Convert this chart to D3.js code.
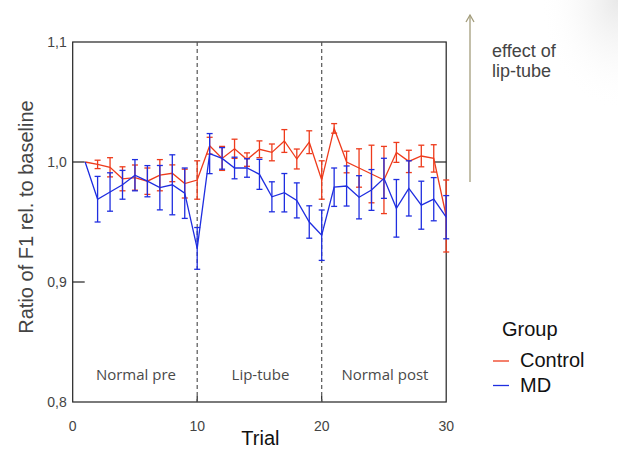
<!DOCTYPE html>
<html>
  <head>
    <title></title>
    <style>
      body, html{
        margin: 0;
        width: 100%;
        height: 100%;
        background: #fff;
      }
      text{
        font-family: "Liberation Sans", Arial, sans-serif;
      }
      .phase{
        font-family: "Open Sans", sans-serif;
        font-size: 15px;
        fill: #4a4a4a;
      }
    </style>
  </head>
  <body>
    <div id="chart"></div>
    <script src="https://cdn.jsdelivr.net/npm/d3@7/dist/d3.min.js" charset="utf-8"></script>
    <script>

// trials 1..30
var trials = d3.range(1, 31)

var controlMean = [1.000, 0.998, 0.9956, 0.986, 0.987, 0.984, 0.989, 0.9906, 0.982, 0.985,
  1.0136, 1.003, 1.011, 1.002, 1.0106, 1.008, 1.0175, 1.0025, 1.0165, 0.985,
  1.028, 1.000, 0.995, 0.990, 0.985, 1.008, 1.0005, 1.005, 1.003, 0.955]
var controlErr = [0, 0.0035, 0.008, 0.010, 0.0105, 0.011, 0.013, 0.007, 0.012, 0.016,
  0.007, 0.010, 0.008, 0.0056, 0.007, 0.007, 0.0095, 0.0083, 0.0095, 0.016,
  0.004, 0.009, 0.016, 0.024, 0.028, 0.0083, 0.0093, 0.009, 0.0114, 0.03]

var mdMean = [1.000, 0.969, 0.975, 0.981, 0.989, 0.984, 0.9786, 0.981, 0.974, 0.928,
  1.007, 1.003, 0.995, 0.995, 0.9897, 0.971, 0.9744, 0.968, 0.950, 0.939,
  0.979, 0.980, 0.9706, 0.9767, 0.9864, 0.9614, 0.978, 0.964, 0.969, 0.954]
var mdErr = [0, 0.019, 0.016, 0.012, 0.013, 0.013, 0.0185, 0.025, 0.021, 0.0174,
  0.0167, 0.009, 0.009, 0.0077, 0.0125, 0.0125, 0.016, 0.0146, 0.0135, 0.021,
  0.016, 0.0167, 0.018, 0.017, 0.0167, 0.024, 0.023, 0.02, 0.018, 0.018]

var yTicks = [0.8, 0.9, 1.0, 1.1]
var xTicks = [0, 10, 20, 30]
var phaseBounds = [10, 20]
var phases = [{label: 'Normal pre', from: 0, to: 10},
  {label: 'Lip-tube', from: 10, to: 20},
  {label: 'Normal post', from: 20, to: 30}]
var groups = [{name: 'Control', color: '#ee3b1c', mean: controlMean, err: controlErr},
  {name: 'MD', color: '#1f2ee0', mean: mdMean, err: mdErr}]

var width = 618, height = 450
var svg = d3.select('#chart').append('svg')
  .attr('width', width).attr('height', height)

// faint shading top right like the slide background
var defs = svg.append('defs')
var rg = defs.append('radialGradient').attr('id', 'shade')
  .attr('cx', '100%').attr('cy', '0%').attr('r', '100%')
rg.append('stop').attr('offset', '0%').attr('stop-color', '#e8e8e8')
rg.append('stop').attr('offset', '100%').attr('stop-color', '#fff').attr('stop-opacity', 0)
svg.append('rect').attr('x', 540).attr('y', 0).attr('width', 78).attr('height', 110)
  .attr('fill', 'url(#shade)')

var x = d3.scaleLinear().domain([0, 30]).range([72.7, 446.2])
var y = d3.scaleLinear().domain([0.8, 1.1]).range([402, 42])

var plot = svg.append('g')

// frame
plot.append('rect')
  .attr('x', x(0)).attr('y', y(1.1))
  .attr('width', x(30) - x(0)).attr('height', y(0.8) - y(1.1))
  .attr('fill', 'none').attr('stroke', '#222').attr('stroke-width', 1.2)

// inward ticks
plot.selectAll('.ytick').data(yTicks.filter(function(d){ return d > 0.8 && d < 1.1 }))
  .enter().append('line')
  .attr('x1', x(0)).attr('x2', x(0) + 12)
  .attr('y1', function(d){ return y(d) }).attr('y2', function(d){ return y(d) })
  .attr('stroke', '#222').attr('stroke-width', 1.2)
plot.append('line')
  .attr('x1', x(30) - 12).attr('x2', x(30))
  .attr('y1', y(1.0)).attr('y2', y(1.0))
  .attr('stroke', '#222').attr('stroke-width', 1.2)
plot.selectAll('.xtick').data(phaseBounds)
  .enter().append('line')
  .attr('x1', function(d){ return x(d) }).attr('x2', function(d){ return x(d) })
  .attr('y1', y(0.8)).attr('y2', y(0.8) - 6)
  .attr('stroke', '#222').attr('stroke-width', 1.2)

// phase boundaries
plot.selectAll('.bound').data(phaseBounds)
  .enter().append('line')
  .attr('x1', function(d){ return x(d) }).attr('x2', function(d){ return x(d) })
  .attr('y1', y(1.1)).attr('y2', y(0.8))
  .attr('stroke', '#555').attr('stroke-width', 1.2)
  .attr('stroke-dasharray', '4,3')

plot.selectAll('.phase').data(phases)
  .enter().append('text').attr('class', 'phase')
  .attr('x', function(d){ return x((d.from + d.to) / 2) + 1 })
  .attr('y', 380)
  .attr('text-anchor', 'middle')
  .text(function(d){ return d.label })

// tick labels
svg.selectAll('.ylab').data(yTicks)
  .enter().append('text')
  .attr('x', x(0) - 6)
  .attr('y', function(d){ return y(d) + 5 })
  .attr('text-anchor', 'end')
  .style('font-size', '14px').style('fill', '#444')
  .text(function(d){ return d3.format('.1f')(d).replace('.', ',') })
svg.selectAll('.xlab').data(xTicks)
  .enter().append('text')
  .attr('x', function(d){ return x(d) })
  .attr('y', 431)
  .attr('text-anchor', 'middle')
  .style('font-size', '14px').style('fill', '#444')
  .text(function(d){ return d })

svg.append('text')
  .attr('x', (x(0) + x(30)) / 2 + 1).attr('y', 445)
  .attr('text-anchor', 'middle')
  .style('font-size', '20px').style('fill', '#111')
  .text('Trial')
svg.append('text')
  .attr('transform', 'translate(33,' + 217 + ') rotate(-90)')
  .attr('text-anchor', 'middle')
  .style('font-size', '20px').style('fill', '#444')
  .text('Ratio of F1 rel. to baseline')

// series
var line = d3.line()
  .x(function(d){ return x(d.t) })
  .y(function(d){ return y(d.m) })

groups.forEach(function(g){
  var pts = trials.map(function(t, i){ return {t: t, m: g.mean[i], e: g.err[i]} })
  var s = plot.append('g').attr('stroke', g.color).attr('fill', 'none').attr('stroke-width', 1.3)
  s.append('path').attr('d', line(pts))
  var bars = s.selectAll('.bar').data(pts.filter(function(d){ return d.e > 0 }))
    .enter().append('g')
  bars.append('line')
    .attr('x1', function(d){ return x(d.t) }).attr('x2', function(d){ return x(d.t) })
    .attr('y1', function(d){ return y(d.m - d.e) }).attr('y2', function(d){ return y(d.m + d.e) })
  bars.append('line')
    .attr('x1', function(d){ return x(d.t) - 3 }).attr('x2', function(d){ return x(d.t) + 3 })
    .attr('y1', function(d){ return y(d.m + d.e) }).attr('y2', function(d){ return y(d.m + d.e) })
  bars.append('line')
    .attr('x1', function(d){ return x(d.t) - 3 }).attr('x2', function(d){ return x(d.t) + 3 })
    .attr('y1', function(d){ return y(d.m - d.e) }).attr('y2', function(d){ return y(d.m - d.e) })
})

// annotation arrow
var arrow = svg.append('g').attr('stroke', '#a39d7c').attr('fill', 'none').attr('stroke-width', 1.3)
arrow.append('line').attr('x1', 470).attr('x2', 470).attr('y1', 182).attr('y2', 15)
arrow.append('path').attr('d', 'M466,22 L470,15 L474,22')
svg.append('text').attr('x', 492).attr('y', 57)
  .style('font-size', '18px').style('fill', '#444').text('effect of')
svg.append('text').attr('x', 492).attr('y', 77)
  .style('font-size', '18px').style('fill', '#444').text('lip-tube')

// legend
var legend = svg.append('g')
legend.append('text').attr('x', 502).attr('y', 336)
  .style('font-size', '20px').style('fill', '#111').text('Group')
var li = legend.selectAll('.item').data(groups).enter().append('g')
  .attr('transform', function(d, i){ return 'translate(0,' + (i * 24.5) + ')' })
li.append('line').attr('x1', 493).attr('x2', 509).attr('y1', 361).attr('y2', 361)
  .attr('stroke', function(d){ return d.color }).attr('stroke-width', 1.3)
li.append('text').attr('x', 520).attr('y', 367)
  .style('font-size', '20px').style('fill', '#111')
  .text(function(d){ return d.name })

    </script>
  </body>
</html>
